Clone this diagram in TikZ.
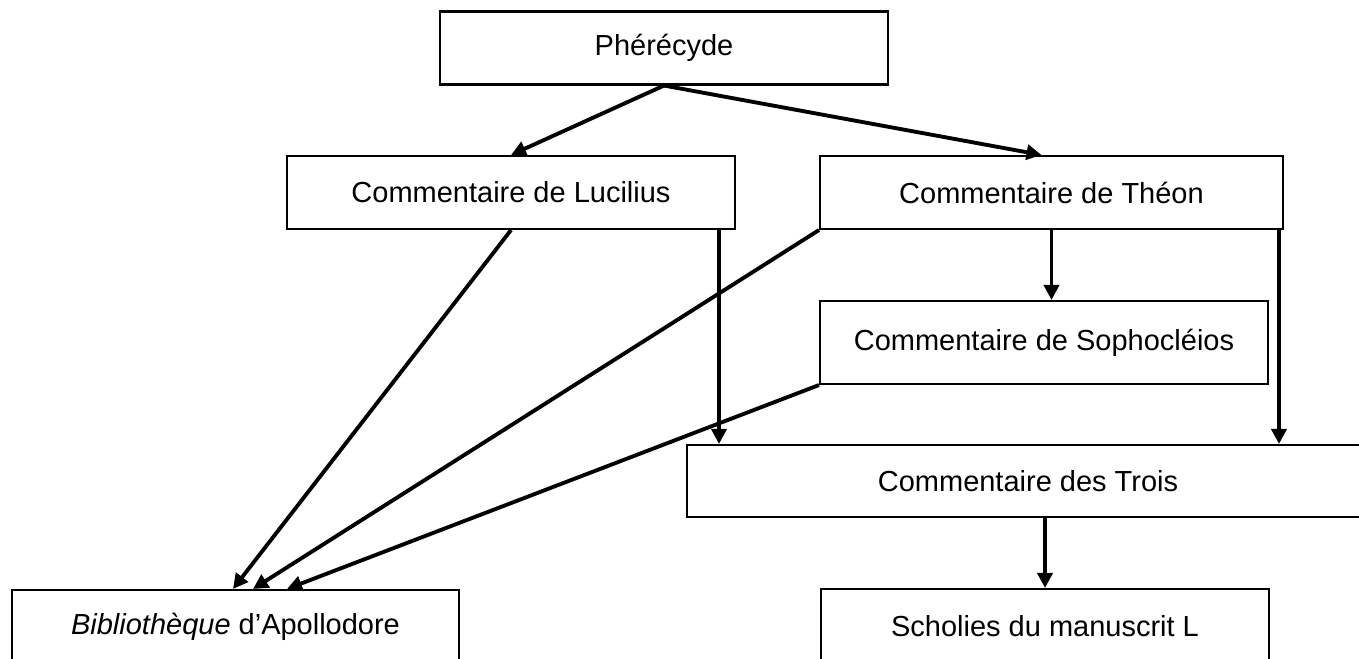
\documentclass[tikz,border=0pt]{standalone}
\usepackage{fontspec}
\setmainfont{Liberation Sans}
\usetikzlibrary{arrows.meta}

\tikzset{
  box/.style={draw, line width=1.2pt, rectangle, inner sep=0pt,
    minimum width=8.96cm, minimum height=1.46cm,
    font=\fontsize{16.5}{20}\selectfont},
  link/.style={line width=2.2pt}
}

\begin{document}
\begin{tikzpicture}[x=0.02cm, y=-0.02cm, >={Triangle[length=0.3cm,width=0.3cm]}]
\useasboundingbox (0,0) rectangle (1359,659);
\clip (0,0) rectangle (1359,659);
\node[box] (pherecyde) at (664,48) {Phérécyde};
\node[box] (lucilius) at (511,192.5) {Commentaire de Lucilius};
\node[box, minimum width=9.26cm] (theon) at (1051.5,192.5) {Commentaire de Théon};
\node[box, minimum height=1.66cm] (sophocleios) at (1044,342.5) {Commentaire de Sophocléios};
\node[box, minimum width=13.64cm, minimum height=1.44cm] (trois) at (1028,481) {Commentaire des Trois};
\node[box, minimum height=1.48cm] (scholies) at (1045,626) {Scholies du manuscrit L};
\node[box, minimum width=8.94cm, minimum height=1.48cm] (biblio) at (235.5,627) {\textit{Bibliothèque} d’Apollodore};
\coordinate (lucout) at ([xshift=-0.34cm]lucilius.south east);
\coordinate (theonout) at ([xshift=-0.1cm]theon.south east);
\draw[link,->] (pherecyde.south) -- (lucilius.north);
\draw[link,->] (pherecyde.south) -- ([xshift=-0.2cm]theon.north);
\draw[link,->] (lucilius.south) -- ([xshift=-0.05cm]biblio.north);
\draw[link,->] (theon.south west) -- ([xshift=0.35cm]biblio.north);
\draw[link,->] (sophocleios.south west) -- ([xshift=1.03cm]biblio.north);
\draw[link,->] (theon.south) -- (theon.south |- sophocleios.north);
\draw[link,->] (lucout) -- (lucout |- trois.north);
\draw[link,->] (theonout) -- (theonout |- trois.north);
\draw[link,->] (scholies.north |- trois.south) -- (scholies.north);
\end{tikzpicture}
\end{document}
